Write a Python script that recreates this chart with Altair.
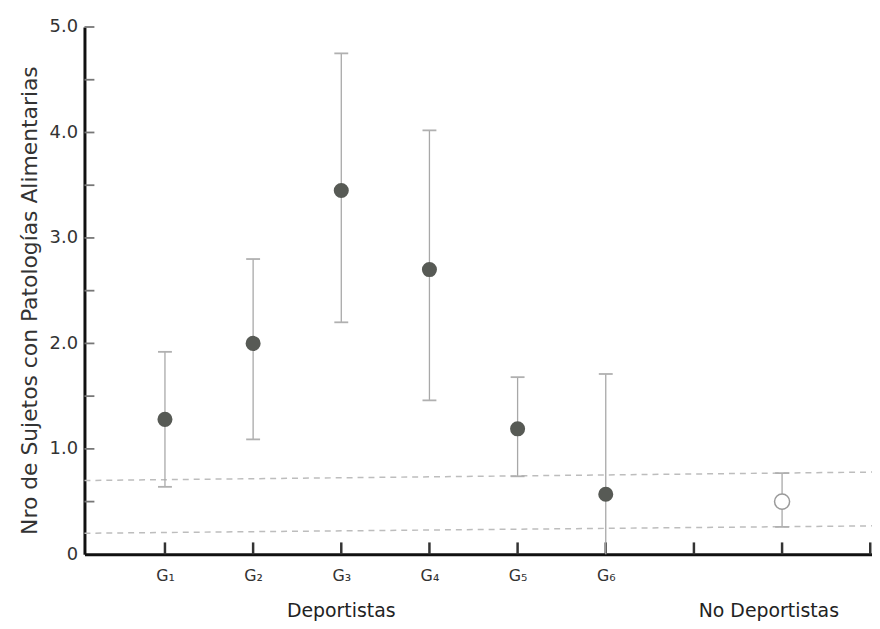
import altair as alt
import pandas as pd

# ---- data ----
groups = ["G₁", "G₂", "G₃", "G₄", "G₅", "G₆", "No Deportistas"]
x_pos = [1, 2, 3, 4, 5, 6, 8]
means = [1.28, 2.00, 3.45, 2.70, 1.19, 0.57, 0.50]
upper = [1.92, 2.80, 4.75, 4.02, 1.68, 1.71, 0.77]
lower = [0.64, 1.09, 2.20, 1.46, 0.74, 0.00, 0.26]
filled = [True, True, True, True, True, True, False]

ref_x = [0.087, 9.02]
ref_upper = [0.70, 0.78]
ref_lower = [0.20, 0.27]

x_tick_values = [1, 2, 3, 4, 5, 6, 7, 8, 9]
x_tick_labels = ["G₁", "G₂", "G₃", "G₄", "G₅", "G₆"]
y_minor_ticks = [0.5, 1.0, 1.5, 2.0, 2.5, 3.0, 3.5, 4.0, 4.5, 5.0]
y_label_values = [0, 1, 2, 3, 4, 5]

section_titles = ["Deportistas", "No Deportistas"]
section_x = [3.0, 7.85]

W, H = 793, 531
FONT = "DejaVu Sans"

df = pd.DataFrame({"grupo": groups, "x": x_pos, "media": means,
                   "sup": upper, "inf": lower, "lleno": filled})
ref = pd.DataFrame({"x": ref_x * 2, "y": ref_upper + ref_lower,
                    "linea": ["sup", "sup", "inf", "inf"]})
xt = pd.DataFrame({"x": x_tick_values})
yt = pd.DataFrame({"y": y_minor_ticks})
sec = pd.DataFrame({"t": section_titles, "x": section_x})

lab_expr = "[" + ",".join("'" + s + "'" for s in x_tick_labels) + "][datum.value - 1]"

xscale = alt.Scale(domain=[0.087, 9.02], nice=False, zero=False)
yscale = alt.Scale(domain=[0, 5], nice=False)

xaxis = alt.Axis(values=[1, 2, 3, 4, 5, 6], labelExpr=lab_expr, tickSize=0,
                 labelPadding=13, labelFontSize=16, labelFont=FONT,
                 labelColor="#333", domainColor="#111", domainWidth=3,
                 grid=False, title=None)
yaxis = alt.Axis(values=y_label_values,
                 labelExpr="datum.value == 0 ? '0' : format(datum.value, '.1f')",
                 tickSize=0, labelPadding=7, labelFontSize=18, labelFont=FONT,
                 labelColor="#333", domainColor="#111", domainWidth=3,
                 grid=False, title="Nro de Sujetos con Patologías Alimentarias",
                 titleFont=FONT, titleFontSize=22, titleFontWeight="normal",
                 titleColor="#333", titleX=-55, titleY=275, titleBaseline="middle",
                 titleAlign="center", titleAngle=270)

X = alt.X("x:Q", scale=xscale, axis=xaxis)

dashed = alt.Chart(ref).mark_line(color="#bdbdbd", strokeDash=[6, 5], strokeWidth=1.5).encode(
    x=X, y=alt.Y("y:Q", scale=yscale, axis=yaxis), detail="linea:N")

ytick_layer = alt.Chart(yt).mark_rule(color="#777", strokeWidth=1.8).encode(
    y=alt.Y("y:Q", scale=yscale), x=alt.value(0), x2=alt.value(10))

xtick_layer = alt.Chart(xt).mark_rule(color="#333", strokeWidth=2.5).encode(
    x=alt.X("x:Q", scale=xscale), y=alt.value(H - 12), y2=alt.value(H))

bars = alt.Chart(df).mark_rule(color="#a8a8a8", strokeWidth=1.3).encode(
    x=alt.X("x:Q", scale=xscale), y=alt.Y("inf:Q", scale=yscale), y2="sup:Q")

cap_top = alt.Chart(df).mark_rule(color="#b0b0b0", strokeWidth=1.8, xOffset=-7, x2Offset=7).encode(
    x=alt.X("x:Q", scale=xscale), x2="x:Q", y=alt.Y("sup:Q", scale=yscale))
cap_bot = alt.Chart(df[df["inf"] > 0]).mark_rule(color="#b0b0b0", strokeWidth=1.8, xOffset=-7, x2Offset=7).encode(
    x=alt.X("x:Q", scale=xscale), x2="x:Q", y=alt.Y("inf:Q", scale=yscale))

pts_filled = alt.Chart(df[df["lleno"]]).mark_point(
    shape="circle", filled=True, size=230, color="#575a55", opacity=1).encode(
    x=alt.X("x:Q", scale=xscale), y=alt.Y("media:Q", scale=yscale))
pts_open = alt.Chart(df[~df["lleno"]]).mark_point(
    shape="circle", filled=False, size=230, color="#9a9a9a", strokeWidth=1.5, fill="white", fillOpacity=1).encode(
    x=alt.X("x:Q", scale=xscale), y=alt.Y("media:Q", scale=yscale))

titles = alt.Chart(sec).mark_text(fontSize=19, font=FONT, color="#222", baseline="alphabetic").encode(
    x=alt.X("x:Q", scale=xscale), y=alt.value(H + 63), text="t:N")

chart = alt.layer(dashed, ytick_layer, xtick_layer, bars, cap_top, cap_bot,
                  pts_filled, pts_open, titles).properties(
    width=W, height=H, background="white",
    autosize=alt.AutoSizeParams(type="none"),
    padding={"left": 77, "top": 17, "right": 0, "bottom": 67},
).configure_view(stroke=None)

chart.save("out.html", embed_options={"renderer": "svg", "actions": False})
